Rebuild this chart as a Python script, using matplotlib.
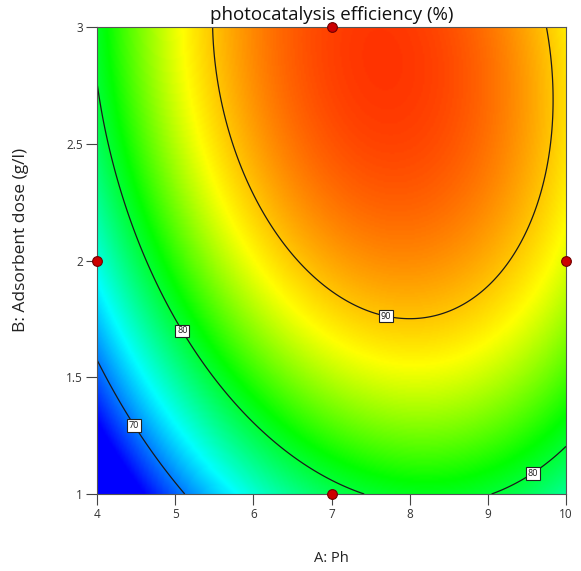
import numpy as np
import matplotlib
matplotlib.use('Agg')
import matplotlib.pyplot as plt
from matplotlib.colors import LinearSegmentedColormap

# quadratic model in coded units: a = (A - 7) / 3, b = (B - 2) / 1
model_terms = ['const', 'a', 'b', 'ab', 'a2', 'b2']
model_coef = [91.095, 6.149, 7.795, -2.060, -9.987, -4.250]

contour_levels = [70, 80, 90]
label_pos = [(4.5, 1.30), (5.1, 1.70), (9.55, 1.10), (7.7, 1.77)]

design_A = [7, 4, 10, 7]
design_B = [3, 2, 2, 1]

# colour stops (response value -> colour)
stop_values = [66, 74, 81.5, 88, 97]
stop_colors = ['#0000ff', '#00ffff', '#00ff00', '#ffff00', '#ff0000']

plt.rcParams['font.family'] = ['Open Sans', 'DejaVu Sans']

A = np.linspace(4, 10, 301)
B = np.linspace(1, 3, 301)
AA, BB = np.meshgrid(A, B)
a = (AA - 7) / 3.0
b = BB - 2.0
c = dict(zip(model_terms, model_coef))
Z = (c['const'] + c['a'] * a + c['b'] * b + c['ab'] * a * b
     + c['a2'] * a * a + c['b2'] * b * b)

vmin, vmax = stop_values[0], stop_values[-1]
pos = [(v - vmin) / (vmax - vmin) for v in stop_values]
cmap = LinearSegmentedColormap.from_list('de', list(zip(pos, stop_colors)))

fig = plt.figure(figsize=(5.81, 5.71), dpi=100)
ax = fig.add_axes([97 / 581, 1 - 494 / 571, (566 - 97) / 581, (494 - 27) / 571])
ax.imshow(Z, origin='lower', extent=[4, 10, 1, 3], aspect='auto',
          cmap=cmap, vmin=vmin, vmax=vmax, interpolation='bilinear')
cs = ax.contour(AA, BB, Z, levels=contour_levels, colors='#1a1a1a', linewidths=0.9)
labels = ax.clabel(cs, manual=label_pos, inline=False, fontsize=6.5, fmt='%d')
for t in labels:
    t.set_rotation(0)
    t.set_bbox(dict(boxstyle='square,pad=0.2', fc='white', ec='#222222', lw=0.8))

ax.plot(design_A, design_B, 'o', ms=7, mfc='#cc0000', mec='#700000', mew=0.8,
        clip_on=False, zorder=5)

ax.set_xlim(4, 10)
ax.set_ylim(1, 3)
ax.set_xticks([4, 5, 6, 7, 8, 9, 10])
ax.set_yticks([1, 1.5, 2, 2.5, 3])
ax.set_yticklabels(['1', '1.5', '2', '2.5', '3'])
ax.tick_params(direction='out', length=8, width=0.8, color='#444444',
               labelsize=8.5, labelcolor='#333333', pad=2)
for s in ax.spines.values():
    s.set_color('#555555')
    s.set_linewidth(0.8)

ax.set_title('photocatalysis efficiency (%)', fontsize=13.5, pad=5, color='#111111')
ax.set_xlabel('A: Ph', fontsize=10.5, color='#222222')
ax.set_ylabel('B: Adsorbent dose (g/l)', fontsize=12.5, color='#222222')
ax.xaxis.set_label_coords(0.5, -0.122)
ax.yaxis.set_label_coords(-0.145, 0.545)

fig.savefig('out.png', dpi=100)
